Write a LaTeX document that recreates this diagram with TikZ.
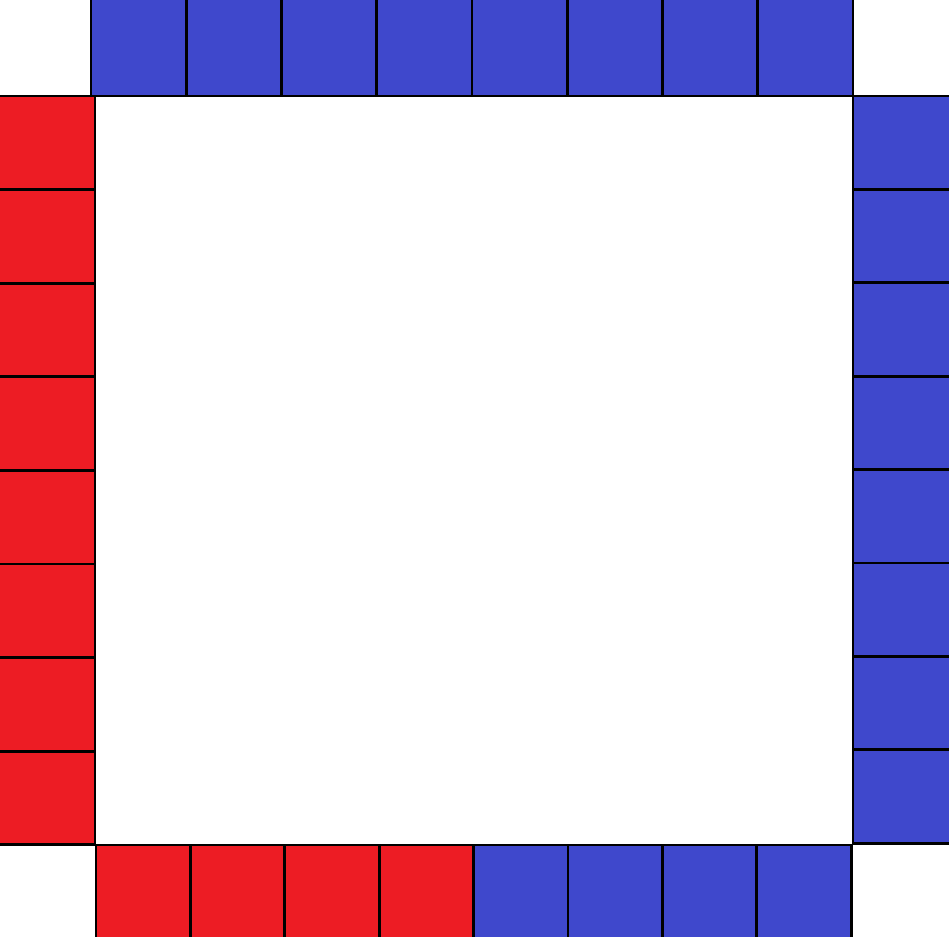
\documentclass[tikz,border=0pt]{standalone}
\usepackage{tikz}

\begin{document}
\begin{tikzpicture}[x=0.01cm, y=-0.01cm,
	bluecell/.style={fill=cellblue, draw=black, line width=0.75pt},
	redcell/.style={fill=cellred, draw=black, line width=0.75pt}]
	
	% Colori delle caselle
	\definecolor{cellblue}{RGB}{63,72,204}
	\definecolor{cellred}{RGB}{237,28,36}
	
	% Area del disegno
	\useasboundingbox (0,0) rectangle (949,937);
	\clip (0,0) rectangle (949,937);
	\fill[white] (0,0) rectangle (949,937);
	
	% Riga in alto (blu)
	\foreach \i in {0,...,7}
		\filldraw[bluecell] ({91+95.25*\i},-5) rectangle ({91+95.25*(\i+1)},96);
	
	% Colonna a sinistra (rossa)
	\foreach \i in {0,...,7}
		\filldraw[redcell] (-5,{96+93.6*\i}) rectangle (95,{96+93.6*(\i+1)});
	
	% Colonna a destra (blu)
	\foreach \i in {0,...,7}
		\filldraw[bluecell] (853,{96+93.4*\i}) rectangle (954,{96+93.4*(\i+1)});
	
	% Riga in basso (quattro rosse, quattro blu)
	\foreach \i in {0,...,3}
		\filldraw[redcell] ({96+94.4*\i},845) rectangle ({96+94.4*(\i+1)},942);
	\foreach \i in {4,...,7}
		\filldraw[bluecell] ({96+94.4*\i},845) rectangle ({96+94.4*(\i+1)},942);
	
\end{tikzpicture}
\end{document}
